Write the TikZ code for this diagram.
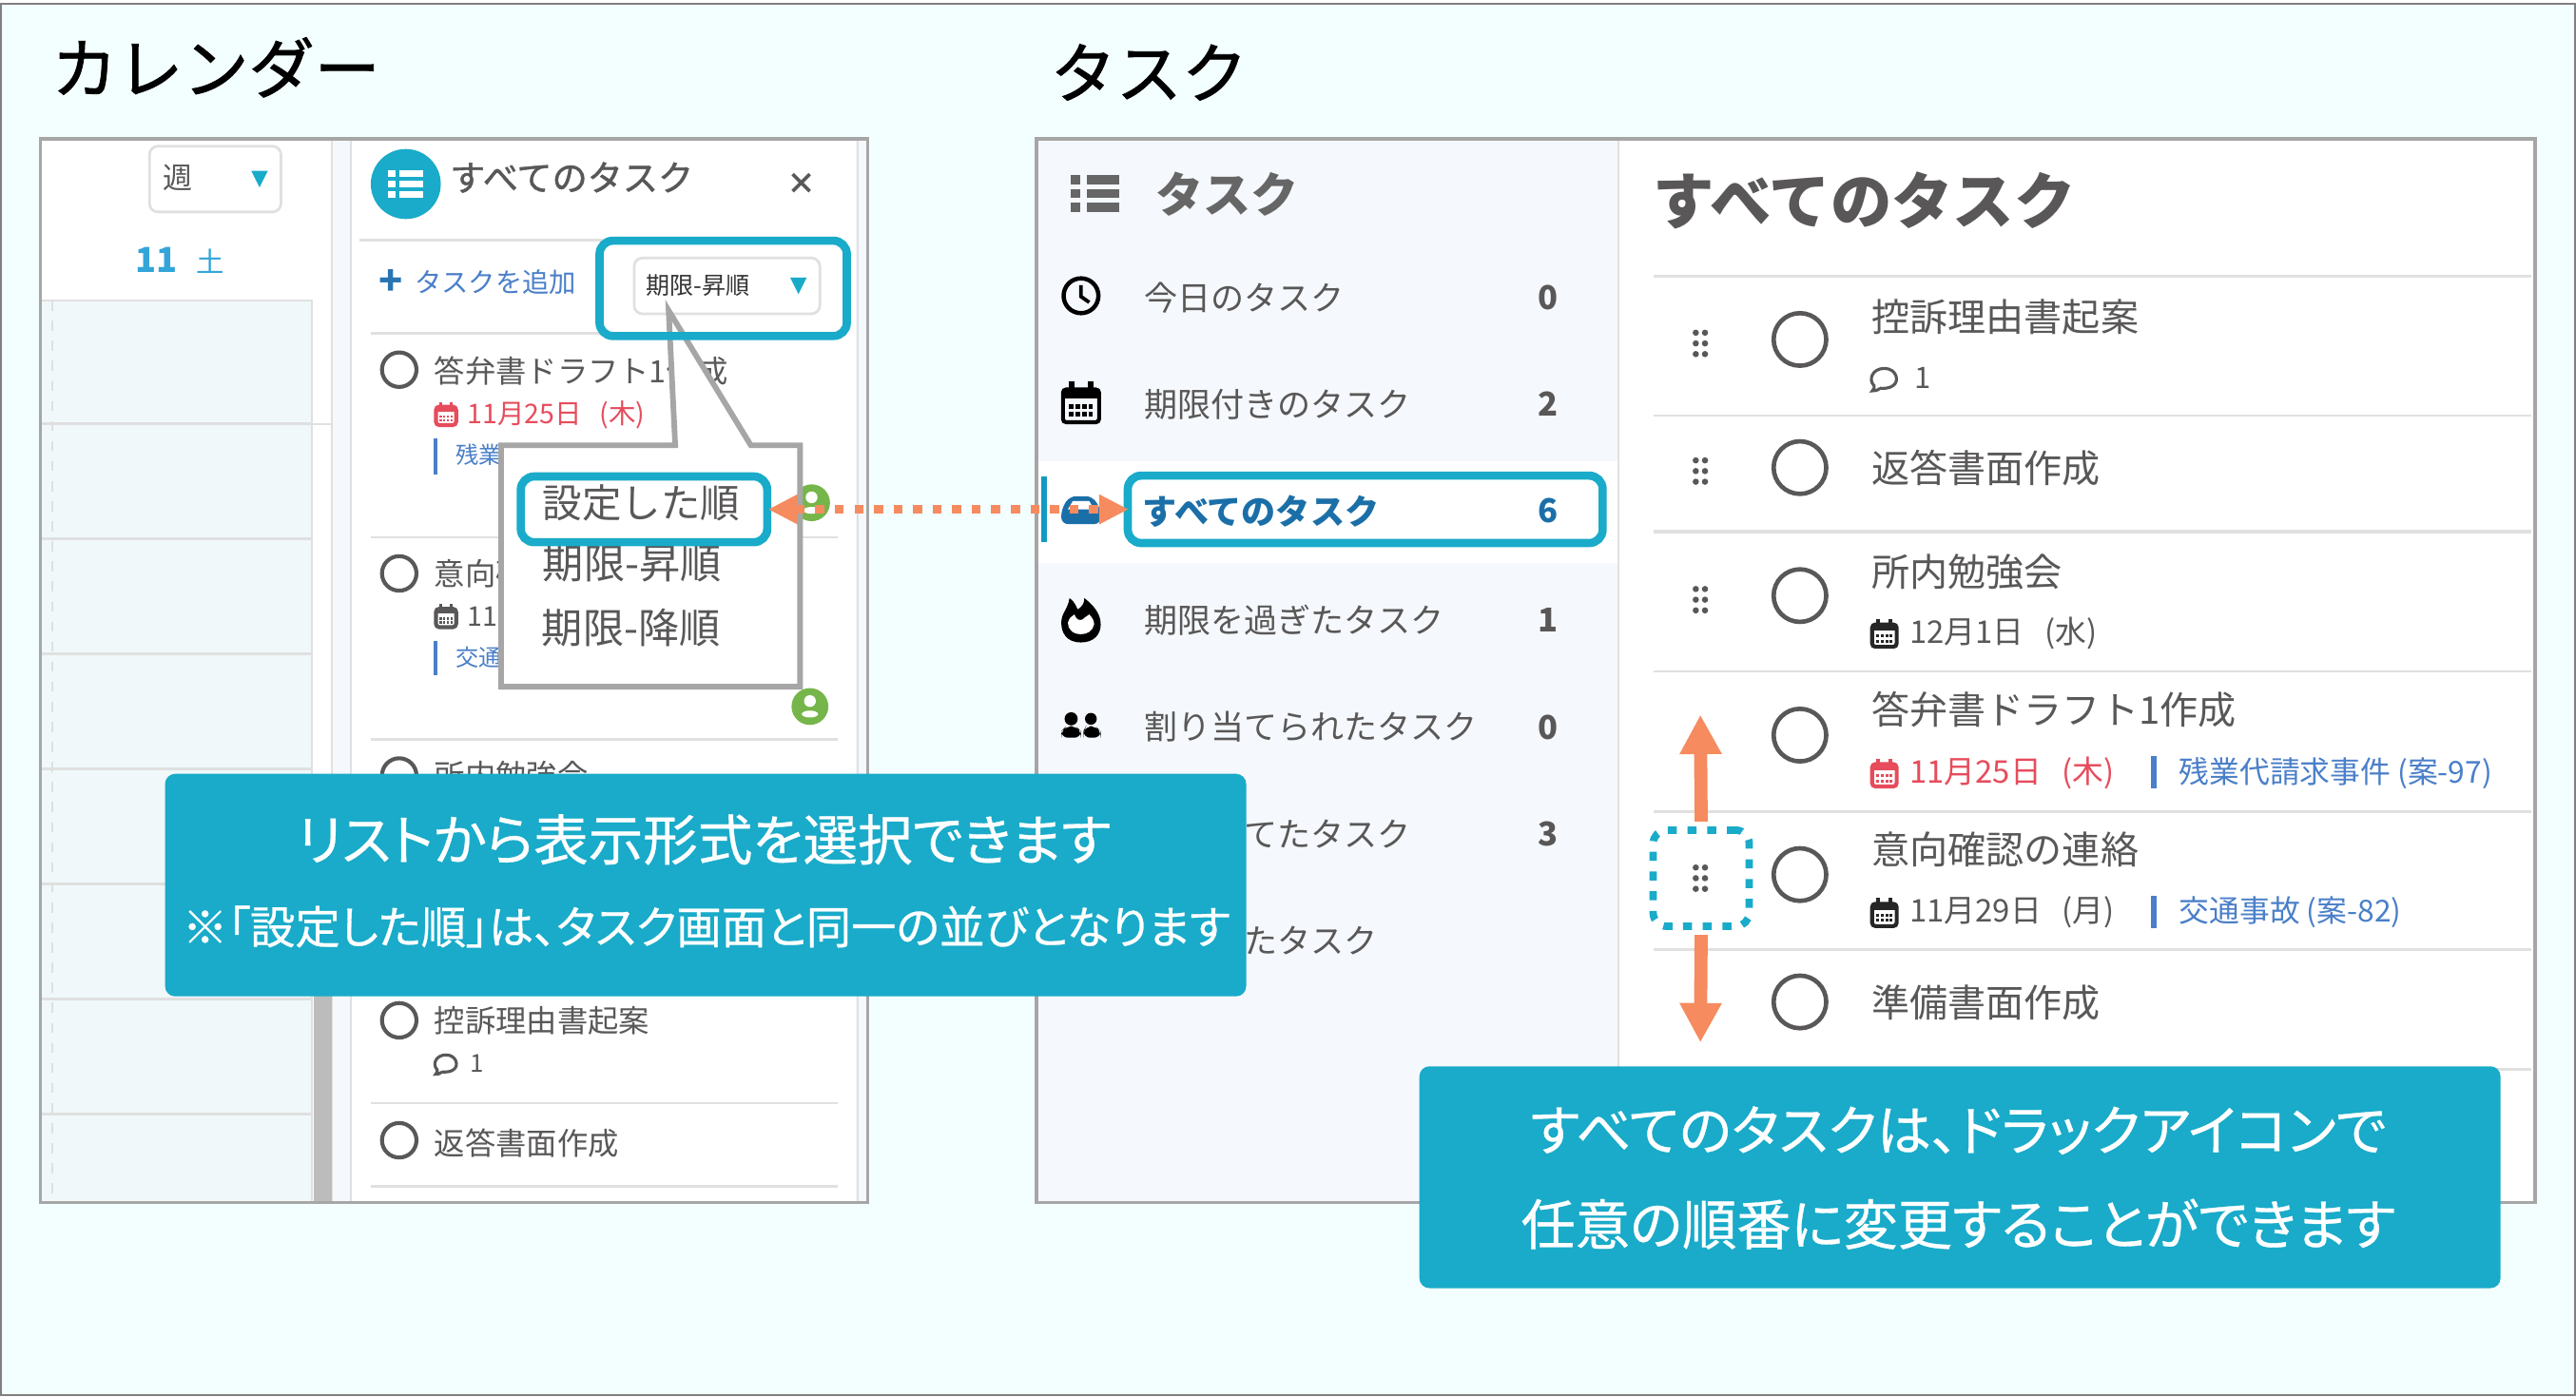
\documentclass[tikz,border=0pt]{standalone}
\usepackage{fontspec}
\setmainfont{Noto Sans CJK JP}
\newfontfamily\palt[RawFeature=+palt, FakeBold=0.6]{Noto Sans CJK JP}
\newfontfamily\medfont[FakeBold=1.2]{Noto Sans CJK JP}
\newfontfamily\datefont[WordSpace=3]{Noto Sans CJK JP}
\usetikzlibrary{arrows.meta}
\def\u{0.4915pt}
\newcommand{\jsize}[1]{\pgfmathsetlengthmacro\jlen{#1*\u}\fontsize{\jlen}{\jlen}\selectfont}
\definecolor{bgcyan}{HTML}{F3FFFF}
\definecolor{teal}{HTML}{19ABC9}
\definecolor{panelgray}{HTML}{A6A6A6}
\definecolor{rule}{HTML}{E0E0E0}
\definecolor{ink}{HTML}{595757}
\definecolor{navbg}{HTML}{F5F8FC}
\definecolor{gridbg}{HTML}{F0F8FA}
\definecolor{linkblue}{HTML}{4A7FC9}
\definecolor{navblue}{HTML}{1B6FA8}
\definecolor{duered}{HTML}{E64C5C}
\definecolor{orange}{HTML}{F58B5F}
\definecolor{usergreen}{HTML}{76B54A}
\tikzset{
	lbl/.style={inner sep=0pt, anchor=west, text=ink},
	bigtitle/.style={lbl, text=black, font=\medfont\jsize{40}},
	leftrow/.style={lbl, font=\jsize{18.7}},
	leftsub/.style={lbl, font=\datefont\jsize{16.5}},
	navrow/.style={lbl, font=\jsize{20.3}},
	navnum/.style={inner sep=0pt, text=ink, font=\jsize{20}\bfseries},
	taskrow/.style={lbl, font=\jsize{23.2}},
	tasksub/.style={lbl, font=\datefont\jsize{19}},
	casesub/.style={lbl, text=linkblue, font=\jsize{18.4}},
	menurow/.style={lbl, font=\jsize{25}},
	selbox/.style={draw=rule, fill=white, rounded corners=2.5pt, line width=1.6*\u},
	tealbox/.style={draw=teal, line width=5*\u, rounded corners=4pt, inner sep=0pt},
	note/.style={fill=teal, rounded corners=3pt, inner sep=0pt},
	notetext/.style={inner sep=0pt, text=white},
	sep/.style={draw=rule, line width=1.5*\u},
	ring/.style={draw=ink, line width=2.4*\u, fill=white, circle, inner sep=0pt},
	pics/listicon/.style={code={
		\foreach \r in {-8.5,0,8.5} {
			\fill (-14.7,\r-2.8) rectangle (-9,\r+2.8);
			\fill (-5.2,\r-2.8) rectangle (14.5,\r+2.8);
		}
	}},
	pics/calicon/.style={code={
		\draw[line width=2.4*\u, rounded corners=1pt] (-11,-8) rectangle (11,12);
		\fill (-11,-8) rectangle (11,-2.5);
		\fill (-7.5,-13) rectangle (-4,-8);
		\fill (4,-13) rectangle (7.5,-8);
		\foreach \a in {-6,-2,2,6} \foreach \b in {2.5,7} \fill (\a-1.3,\b-1.3) rectangle (\a+1.3,\b+1.3);
	}},
	pics/talkicon/.style={code={
		\draw[line width=1.8*\u] (-2.5,6) .. controls (-4,7.5) and (-6,7.5) .. (-7,7.5) .. controls (-5.8,6.5) and (-5.8,5.5) .. (-6,4.5) .. controls (-9.5,1) and (-7,-5.5) .. (0,-5.5) .. controls (7,-5.5) and (9,2) .. (5,4.5) .. controls (3,6) and (0,6.2) .. (-2.5,6);
	}},
	pics/usericon/.style={code={
		\fill[usergreen] (0,0) circle (11.2);
		\fill[white] (0,-3.3) circle (3.6);
		\fill[white] (0,4.6) ellipse (5 and 2.1);
	}},
	pics/dotgrip/.style={code={
		\foreach \a in {-2.8,2.8} \foreach \b in {-6.5,0,6.5} \fill[ink] (\a,\b) circle (1.9);
	}},
}
\begin{document}
\begin{tikzpicture}[x=0.017277cm, y=-0.017277cm]
\useasboundingbox (0,0) rectangle (1568,849.7);
\fill[white] (0,0) rectangle (1568,849.7);
\draw[fill=bgcyan, draw=gray, line width=1*\u] (0.4,2.4) rectangle (1567.6,849.3);

\node[bigtitle] (caltitle) at (31,41) {カレンダー};
\node[bigtitle] (tasktitle) at (639,44) {タスク};

% calendar panel
\fill[white] (24,84) rectangle (528,732);
\fill[gridbg] (25,183) rectangle (190,732);
\fill[navbg] (202,85) rectangle (214,732);
\fill[navbg] (521,85) rectangle (527,732);
\draw[rule, line width=1*\u] (202,85) -- (202,732) (213.5,85) -- (213.5,732) (522,85) -- (522,732);
\draw[rule, line width=1.3*\u] (25,183) -- (190,183) -- (190,732);
\foreach \y in {258,328,...,678} \draw[rule, line width=1.5*\u] (25,\y) -- (190,\y);
\draw[rule, line width=1.3*\u] (190,258) -- (202,258);
\draw[rule, dashed, line width=1*\u] (32,183) -- (32,732);
\fill[panelgray!75] (191,600) rectangle (202,732);

\node[selbox, minimum width=80*\u, minimum height=40*\u, inner sep=0pt] (viewbox) at (131,109) {};
\node[lbl, text=ink, font=\jsize{18}] (viewtext) at (99,108) {週};
\fill[teal] (153,104) -- (163,104) -- (158,114) -- cycle;
\node[lbl, text=linkblue!70!cyan, font=\jsize{21}\bfseries] (daynum) at (82,158) {11};
\node[lbl, text=linkblue!70!cyan, font=\jsize{17}] (dayname) at (119,159) {土};

\fill[teal] (247,112) circle (21.3);
\pic[white, scale=0.72] at (247,112) {listicon};
\node[lbl, font=\medfont\jsize{21.5}] (calhead) at (273.5,108) {すべてのタスク};
\node[inner sep=0pt, text=ink, font=\jsize{18}\bfseries] (closemark) at (488,112) {×};
\draw[sep] (219,146) -- (510,146);
\node[lbl, text=navblue!70!linkblue, font=\jsize{24}\bfseries] (addmark) at (230,172) {+};
\node[lbl, text=linkblue, font=\jsize{16.4}] (addtext) at (252,172) {タスクを追加};
\node[selbox, minimum width=113*\u, minimum height=34*\u, inner sep=0pt] (sortbox) at (442.5,174) {};
\node[lbl, text=black!80, font=\jsize{14.5}] (sorttext) at (393,174) {期限-昇順};
\fill[teal] (481,169) -- (491,169) -- (486,179) -- cycle;
\foreach \y in {203,327,450,671.5,722} \draw[sep] (226,\y) -- (510,\y);

\foreach \y/\n in {225/a,349/b,472/c,621/d,694/e} \node[ring, minimum size=21*\u] (leftring\n) at (243,\y) {};
\node[leftrow] (lefttask1) at (264,226) {答弁書ドラフト1作成};
\pic[duered, scale=0.56] at (271.5,252) {calicon};
\node[leftsub, text=duered] (leftdate1) at (284,252.5) {11月25日 (木)};
\fill[linkblue] (264,267) rectangle (266.5,289);
\node[lbl, text=linkblue, font=\jsize{14}] (leftcase1) at (277,277) {残業};
\node[leftrow] (lefttask2) at (264,349) {意向確};
\pic[ink, scale=0.56] at (271.5,375) {calicon};
\node[leftsub] (leftdate2) at (284,375) {11};
\fill[linkblue] (264,390) rectangle (266.5,411);
\node[lbl, text=linkblue, font=\jsize{14}] (leftcase2) at (277,400) {交通};
\node[leftrow] (lefttask3) at (264,472) {所内勉強会};
\node[leftrow] (lefttask4) at (264,621) {控訴理由書起案};
\pic[ink, scale=0.9] at (271.5,647) {talkicon};
\node[lbl, font=\jsize{15}] (leftcount) at (286,647) {1};
\node[leftrow] (lefttask5) at (264,696) {返答書面作成};
\pic at (494,306) {usericon};
\pic at (493,430) {usericon};

% sort menu
\draw[draw=panelgray, fill=white, line width=3.4*\u, line join=miter] (305,271) -- (411,271) -- (407,189) -- (457,271) -- (487,271) -- (487,418) -- (305,418) -- cycle;
\node[menurow] (menu2) at (330,343) {期限-昇順};
\node[menurow] (menu3) at (329.5,382) {期限-降順};
\node[menurow, font=\jsize{24}] (menu1) at (330,306) {設定した順};
\node[tealbox, minimum width=150*\u, minimum height=40*\u] (orderbox) at (392,310) {};
\node[tealbox, minimum width=150.5*\u, minimum height=58*\u] (sortmark) at (440.2,175.5) {};
\draw[draw=panelgray, line width=2*\u] (24.5,84.5) rectangle (528,732);

% task panel
\fill[white] (631,84) rectangle (1543,732);
\fill[navbg] (631,84) rectangle (985,732);
\fill[white] (632,280.5) rectangle (985,342.5);
\draw[rule, line width=1.2*\u] (985,85) -- (985,732);
\pic[black!60, scale=1] at (666.5,117.7) {listicon};
\node[lbl, text=black!60, font=\jsize{29}\bfseries] (navhead) at (703,118) {タスク};

\foreach \y/\t/\c/\n in {181/今日のタスク/0/a,246/期限付きのタスク/2/b,377.5/期限を過ぎたタスク/1/d,442.5/割り当てられたタスク/0/e} {
	\node[navrow] (navitem\n) at (696,\y) {\t};
	\node[navnum] (navcount\n) at (942.5,\y) {\c};
}
\node[navrow] (navitemf) at (757,507.5) {てたタスク};
\node[navnum] (navcountf) at (942.5,507.5) {3};
\node[navrow] (navitemg) at (757,572.5) {たタスク};
\node[navrow, text=navblue, font=\jsize{20.9}\bfseries] (navitemc) at (695,311) {すべてのタスク};
\node[navnum, text=navblue] (navcountc) at (942.5,311) {6};
\fill[navblue!70!cyan] (634,290) rectangle (637.5,330);

\draw[line width=2.6*\u] (658,180) circle (10.6);
\draw[line width=2.2*\u] (658,173.5) -- (658,180.5) -- (663,184);
\pic[black, scale=1] at (658,245) {calicon};
\fill[navblue, rounded corners=2pt] (646,319) -- (646,310) -- (651,302) -- (665,302) -- (670,310) -- (670,319) -- cycle;
\fill[white] (650,310) -- (653,305) -- (663,305) -- (666,310) -- cycle;
\fill[black] (658,391) .. controls (649,391) and (646,385) .. (646,379) .. controls (646,373) and (650,371) .. (651,364) .. controls (654,366) and (655,369) .. (656,371) .. controls (659,369) and (660,367) .. (660,364) .. controls (665,368) and (670,373) .. (670,380) .. controls (670,386) and (666,391) .. (658,391) -- cycle;
\fill[white] (658,386) .. controls (653,386) and (650,383) .. (650,379) .. controls (651,376) and (652,375) .. (654,374) .. controls (655,377) and (657,378) .. (659,377) .. controls (661,375) and (662,375) .. (663,374) .. controls (665,376) and (666,378) .. (666,380) .. controls (665,384) and (662,386) .. (658,386) -- cycle;
\fill[black] (652,437.5) circle (4) (664,437.5) circle (3.6);
\fill[black, rounded corners=2pt] (646,449) -- (646,445) -- (649,442) -- (655,442) -- (658,445) -- (658,449) -- cycle;
\fill[black, rounded corners=2pt] (659.5,449) -- (659.5,445) -- (661,442) -- (667,442) -- (670,445) -- (670,449) -- cycle;

\node[lbl, text=ink, font=\jsize{37.3}\bfseries] (listhead) at (1006,122) {すべてのタスク};
\foreach \y in {168,253,408.6,494,578,651} \draw[sep] (1006.6,\y) -- (1541,\y);
\draw[draw=rule, line width=2.2*\u] (1006.6,323.6) -- (1541,323.6);

\foreach \y/\n in {206.6/a,284.6/b,362.5/c,447.4/d,532.3/e,609.8/f} \node[ring, line width=2.7*\u, minimum size=32*\u] (taskring\n) at (1095.6,\y) {};
\foreach \y in {209,286.7,365,534.5} \pic at (1035,\y) {dotgrip};

\node[taskrow] (task1) at (1139,193) {控訴理由書起案};
\pic[ink, scale=1.05] at (1147,230) {talkicon};
\node[lbl, font=\jsize{18}] (count1) at (1165,230) {1};
\node[taskrow] (task2) at (1139,285) {返答書面作成};
\node[taskrow] (task3) at (1139,348) {所内勉強会};
\pic[black!85, scale=0.68] at (1147,385.5) {calicon};
\node[tasksub] (date3) at (1162,385.5) {12月1日 (水)};
\node[taskrow] (task4) at (1139,432) {答弁書ドラフト1作成};
\pic[duered, scale=0.68] at (1147,470.5) {calicon};
\node[tasksub, text=duered] (date4) at (1162,470.5) {11月25日 (木)};
\fill[linkblue] (1309.5,460) rectangle (1312.5,480);
\node[casesub] (case4) at (1326,470.5) {残業代請求事件 (案-97)};
\node[taskrow] (task5) at (1139,517) {意向確認の連絡};
\pic[black!85, scale=0.68] at (1147,555.5) {calicon};
\node[tasksub] (date5) at (1162,555.5) {11月29日 (月)};
\fill[linkblue] (1309.5,545) rectangle (1312.5,565);
\node[casesub] (case5) at (1326,555.5) {交通事故 (案-82)};
\node[taskrow] (task6) at (1139,610) {準備書面作成};

\node[tealbox, minimum width=289*\u, minimum height=41*\u] (allbox) at (831,310) {};
\draw[draw=panelgray, line width=2*\u] (631,84.5) rectangle (1543,732);

% arrows and notes
\draw[orange, line width=5.5*\u, dash pattern=on 5.5*\u off 6.4*\u, shorten <=-2*\u, shorten >=-3*\u, {Triangle[length=18*\u, width=17*\u]}-{Triangle[length=18*\u, width=17*\u]}] (orderbox.east) -- (allbox.west);
\node[tealbox, draw=teal, line width=4.5*\u, dash pattern=on 5.5*\u off 6.5*\u, minimum width=58.5*\u, minimum height=58.5*\u] (dragbox) at (1035.5,534.5) {};
\coordinate (uptip) at (1035,435);
\coordinate (downtip) at (1035,634.5);
\draw[orange, line width=8*\u, shorten <=3*\u, -{Triangle[length=24*\u, width=24*\u]}] (dragbox.north) -- (uptip);
\draw[orange, line width=8*\u, shorten <=3*\u, -{Triangle[length=24*\u, width=24*\u]}] (dragbox.south) -- (downtip);

\node[note, minimum width=658*\u, minimum height=135.4*\u] (leftnote) at (429.5,538.7) {};
\node[notetext, font=\palt\jsize{33.3}] (leftnote1) at (428.5,511) {リストから表示形式を選択できます};
\node[notetext, font=\palt\jsize{27.4}] (leftnote2) at (430,564) {※「設定した順」は、タスク画面と同一の並びとなります};
\node[note, minimum width=658*\u, minimum height=135*\u] (rightnote) at (1193,716.5) {};
\node[notetext, font=\palt\jsize{33.1}] (rightnote1) at (1192,688) {すべてのタスクは、ドラックアイコンで};
\node[notetext, font=\palt\jsize{33.1}] (rightnote2) at (1192,745) {任意の順番に変更することができます};
\end{tikzpicture}
\end{document}
